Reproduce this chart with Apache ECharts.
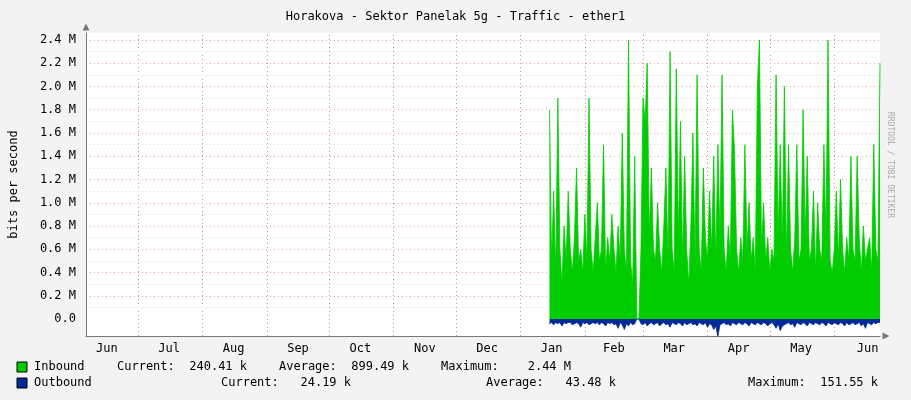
<!DOCTYPE html>
<html>
<head>
<meta charset="utf-8">
<script src="https://cdn.jsdelivr.net/npm/echarts@6/dist/echarts.min.js"></script>
<style>
  html, body { margin: 0; padding: 0; background: #f3f3f3; }
  #chart { width: 911px; height: 400px; }
</style>
</head>
<body>
<div id="chart"></div>
<script>
// days counted from Jun 6 (left edge of the graph)
const startDay = 223;
const monthStarts = [25, 56, 87, 117, 148, 178, 209, 240, 268, 299, 329, 360];
const monthLabels = ["Jun", "Jul", "Aug", "Sep", "Oct", "Nov", "Dec", "Jan", "Feb", "Mar", "Apr", "May", "Jun"];
const labelDays = [10, 40, 71, 102, 132, 163, 193, 224, 254, 283, 314, 344, 376];
const yTicks = [0, 0.2, 0.4, 0.6, 0.8, 1.0, 1.2, 1.4, 1.6, 1.8, 2.0, 2.2, 2.4];

// inbound, M bits/s, one value per day
const inbound = [
  1.8, 0.5, 1.1, 0.4, 1.9, 0.6, 0.3, 0.8, 0.5, 1.1, 0.6, 0.4, 0.7, 1.3, 0.5, 0.6, 0.4, 0.9, 0.5, 1.9,
  0.6, 0.4, 0.7, 1.0, 0.5, 0.6, 1.5, 0.4, 0.7, 0.5, 0.9, 0.6, 0.4, 0.8, 0.5, 1.6, 0.6, 0.4, 2.4, 0.5,
  0.3, 1.4, 0.0, 0.0, 0.6, 1.9, 1.7, 2.2, 0.7, 1.3, 0.6, 0.5, 1.0, 0.6, 0.4, 0.8, 1.3, 0.5, 2.3, 0.6,
  0.4, 2.15, 0.7, 1.7, 0.5, 1.4, 0.6, 0.3, 0.8, 1.6, 0.5, 2.1, 0.6, 0.4, 1.3, 0.7, 0.5, 1.1, 0.6, 1.4,
  0.5, 1.5, 0.7, 2.1, 0.6, 0.4, 0.8, 0.5, 1.8, 1.45, 0.6, 0.4, 0.7, 0.5, 1.5, 0.6, 1.0, 0.5, 0.7, 0.4,
  2.0, 2.4, 0.6, 1.0, 0.5, 0.7, 0.4, 0.6, 0.5, 2.1, 0.7, 1.5, 0.6, 2.0, 0.5, 1.5, 0.6, 0.4, 0.7, 1.5,
  0.5, 0.6, 1.8, 0.7, 1.4, 0.5, 0.6, 1.1, 0.4, 1.0, 0.6, 0.5, 1.5, 0.7, 2.4, 0.5, 0.4, 0.6, 1.1, 0.5,
  1.2, 0.6, 0.4, 0.7, 0.5, 1.4, 0.6, 0.5, 1.4, 0.7, 0.4, 0.8, 0.5, 0.6, 0.7, 0.4, 1.5, 0.6, 0.5, 2.2
];
// outbound, M bits/s, drawn below zero
const outbound = [
  0.04, 0.03, 0.05, 0.03, 0.04, 0.03, 0.06, 0.03, 0.04, 0.03, 0.03, 0.05, 0.04, 0.03, 0.04, 0.07, 0.03, 0.04, 0.03, 0.05,
  0.04, 0.03, 0.04, 0.03, 0.05, 0.03, 0.04, 0.06, 0.03, 0.04, 0.03, 0.05, 0.04, 0.08, 0.03, 0.05, 0.09, 0.04, 0.06, 0.03,
  0.05, 0.04, 0.0, 0.0, 0.04, 0.05, 0.03, 0.06, 0.04, 0.03, 0.05, 0.04, 0.03, 0.06, 0.04, 0.03, 0.05, 0.04, 0.07, 0.03,
  0.04, 0.05, 0.03, 0.04, 0.06, 0.03, 0.05, 0.04, 0.03, 0.05, 0.04, 0.06, 0.03, 0.04, 0.05, 0.03, 0.07, 0.04, 0.05, 0.09,
  0.06, 0.15, 0.05, 0.04, 0.03, 0.05, 0.04, 0.06, 0.03, 0.04, 0.05, 0.03, 0.04, 0.05, 0.03, 0.04, 0.06, 0.03, 0.04, 0.05,
  0.03, 0.04, 0.05, 0.03, 0.04, 0.06, 0.04, 0.03, 0.05, 0.08, 0.04, 0.1, 0.06, 0.05, 0.04, 0.03, 0.05, 0.04, 0.07, 0.03,
  0.04, 0.05, 0.03, 0.04, 0.06, 0.03, 0.04, 0.05, 0.03, 0.04, 0.05, 0.03, 0.04, 0.06, 0.03, 0.04, 0.05, 0.03, 0.04, 0.05,
  0.03, 0.04, 0.06, 0.03, 0.05, 0.04, 0.03, 0.05, 0.04, 0.03, 0.06, 0.04, 0.08, 0.03, 0.04, 0.05, 0.03, 0.04, 0.03, 0.03
];

const mono = "DejaVu Sans Mono";
const inData = inbound.map((v, i) => [startDay + i, v]);
const outData = outbound.map((v, i) => [startDay + i, -v]);

// grid lines
const gridLines = [];
monthStarts.forEach(d => gridLines.push({ xAxis: d, lineStyle: { color: "#f08080", type: [1, 3], width: 1 } }));
for (let k = 1; k <= 24; k++) {
  gridLines.push({ yAxis: k / 10, lineStyle: { color: k % 2 === 0 ? "#f0a8a8" : "#d8d8d8", type: [1, 3], width: 1 } });
}

let chart = echarts.init(document.querySelector("#chart"));

let arrowAxis = { color: "#777" };

let option = {
  backgroundColor: "#f3f3f3",
  animation: false,
  title: {
    text: "Horakova - Sektor Panelak 5g - Traffic - ether1",
    left: "center", top: 6,
    textStyle: { fontFamily: mono, fontSize: 12, fontWeight: "normal", color: "#000" }
  },
  grid: { left: 82, right: 31, top: 33, bottom: 64, show: true, backgroundColor: "#fff", borderWidth: 0 },
  xAxis: {
    type: "value", min: 0, max: 382,
    axisLine: { onZero: false, lineStyle: arrowAxis, symbol: ["none", "triangle"], symbolSize: [7, 7], symbolOffset: [0, 6] },
    axisTick: { show: false },
    splitLine: { show: false },
    axisLabel: {
      customValues: labelDays,
      formatter: (v) => monthLabels[labelDays.indexOf(v)] || "",
      fontFamily: mono, fontSize: 12, color: "#000", margin: 7
    }
  },
  yAxis: {
    type: "value", min: -0.146, max: 2.46,
    name: "bits per second", nameLocation: "middle", nameGap: 66,
    nameTextStyle: { fontFamily: mono, fontSize: 12, color: "#000" },
    axisLine: { show: true, lineStyle: arrowAxis, symbol: ["none", "triangle"], symbolSize: [7, 7], symbolOffset: [0, 6] },
    axisTick: { show: false },
    splitLine: { show: false },
    axisLabel: {
      customValues: yTicks,
      formatter: (v) => v === 0 ? "0.0" : v.toFixed(1) + " M",
      fontFamily: mono, fontSize: 12, color: "#000", margin: 10
    }
  },
  series: [
    {
      type: "line", data: [], silent: true, z: 0,
      markLine: { silent: true, symbol: "none", label: { show: false }, data: gridLines, z: 0 }
    },
    {
      name: "Inbound", type: "line", data: inData, symbol: "none", z: 3,
      lineStyle: { width: 0.8, color: "#00cc00" }, areaStyle: { color: "#00cc00", opacity: 1 }
    },
    {
      name: "Outbound", type: "line", data: outData, symbol: "none", z: 3,
      lineStyle: { width: 0.8, color: "#002a97" }, areaStyle: { color: "#002a97", opacity: 1 }
    }
  ],
  graphic: [
    { type: "text", rotation: -Math.PI / 2, x: 894, y: 112,
      style: { text: "RRDTOOL / TOBI OETIKER", fontFamily: mono, fontSize: 8, fill: "#aaa" } },
    { type: "rect", shape: { x: 17, y: 362, width: 10, height: 10 }, style: { fill: "#00cc00", stroke: "#000" } },
    { type: "rect", shape: { x: 17, y: 378, width: 10, height: 10 }, style: { fill: "#002a97", stroke: "#000" } },
    { type: "text", x: 34, y: 361, style: { text: "Inbound", font: "12px " + mono, fill: "#000" } },
    { type: "text", x: 117, y: 361, style: { text: "Current:  240.41 k", font: "12px " + mono, fill: "#000" } },
    { type: "text", x: 279, y: 361, style: { text: "Average:  899.49 k", font: "12px " + mono, fill: "#000" } },
    { type: "text", x: 441, y: 361, style: { text: "Maximum:    2.44 M", font: "12px " + mono, fill: "#000" } },
    { type: "text", x: 34, y: 377, style: { text: "Outbound", font: "12px " + mono, fill: "#000" } },
    { type: "text", x: 221, y: 377, style: { text: "Current:   24.19 k", font: "12px " + mono, fill: "#000" } },
    { type: "text", x: 486, y: 377, style: { text: "Average:   43.48 k", font: "12px " + mono, fill: "#000" } },
    { type: "text", x: 748, y: 377, style: { text: "Maximum:  151.55 k", font: "12px " + mono, fill: "#000" } }
  ]
};

chart.setOption(option);
</script>
</body>
</html>
